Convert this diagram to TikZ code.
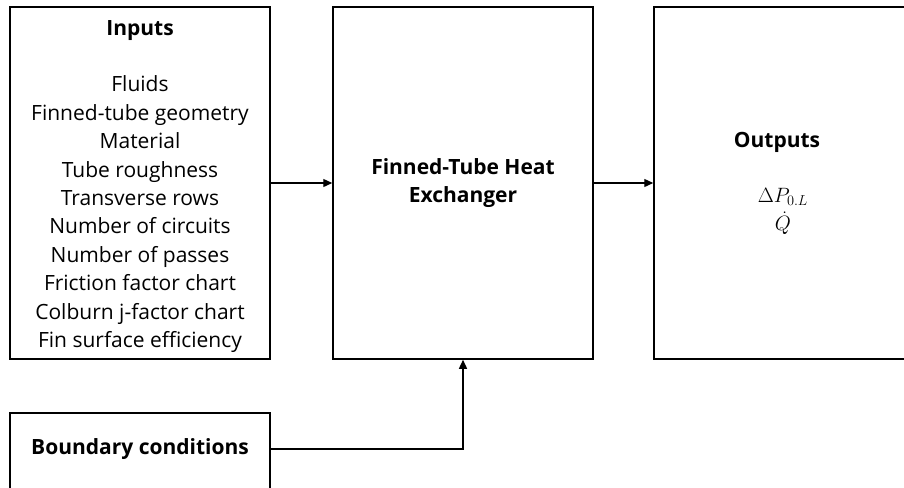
\documentclass[tikz,border=0pt]{standalone}
\usepackage{amsmath}
\usepackage{fontspec}
\setmainfont{Open Sans}
\usetikzlibrary{arrows.meta, positioning}

\begin{document}
\begin{tikzpicture}[x=1pt,y=-1pt,
    blockbox/.style={draw, line width=1.5pt, inner sep=0pt},
    txt/.style={align=center, inner sep=0pt, font=\fontsize{21}{28.4}\selectfont},
    flow/.style={line width=1.3pt, -{Triangle[length=9pt,width=8pt]}}]

        \useasboundingbox (0,0) rectangle (904,487);
        \clip (0,0) rectangle (904,487);

        % blocks
        \node[blockbox, minimum width=260pt, minimum height=352pt] (inputs) at (140,183) {};
        \node[blockbox, minimum width=260pt, minimum height=352pt] (hx) at (463,183) {};
        \node[blockbox, minimum width=256pt, minimum height=352pt] (outputs) at (782,183) {};
        \node[blockbox, minimum width=260pt, minimum height=100pt] (bc) at (140,463) {};

        % texts
        \node[txt, anchor=north] (inputstxt) at (140,20) {\textbf{Inputs}\\[28.4pt]
            Fluids\\Finned-tube geometry\\Material\\Tube roughness\\Transverse rows\\
            Number of circuits\\Number of passes\\Friction factor chart\\
            Colburn j-factor chart\\Fin surface efficiency};
        \node[txt] (hxtxt) at (463,183) {\textbf{Finned-Tube Heat}\\\textbf{Exchanger}};
        \node[txt] (outtitle) at (777,142) {\textbf{Outputs}};
        \node[txt, font=\fontsize{20}{20}\selectfont] (dp) at (783,197) {$\Delta P_{0.L}$};
        \node[txt, font=\fontsize{20}{20}\selectfont, below=6pt of dp] (qdot) {$\dot{Q}$};
        \node[txt] (bctxt) at (140,449) {\textbf{Boundary conditions}};

        % connectors
        \draw[flow] (inputs.east) -- (hx.west);
        \draw[flow] (hx.east) -- (outputs.west);
        \draw[flow] (bc.east |- bctxt) -| (hx.south);
    \end{tikzpicture}
\end{document}
